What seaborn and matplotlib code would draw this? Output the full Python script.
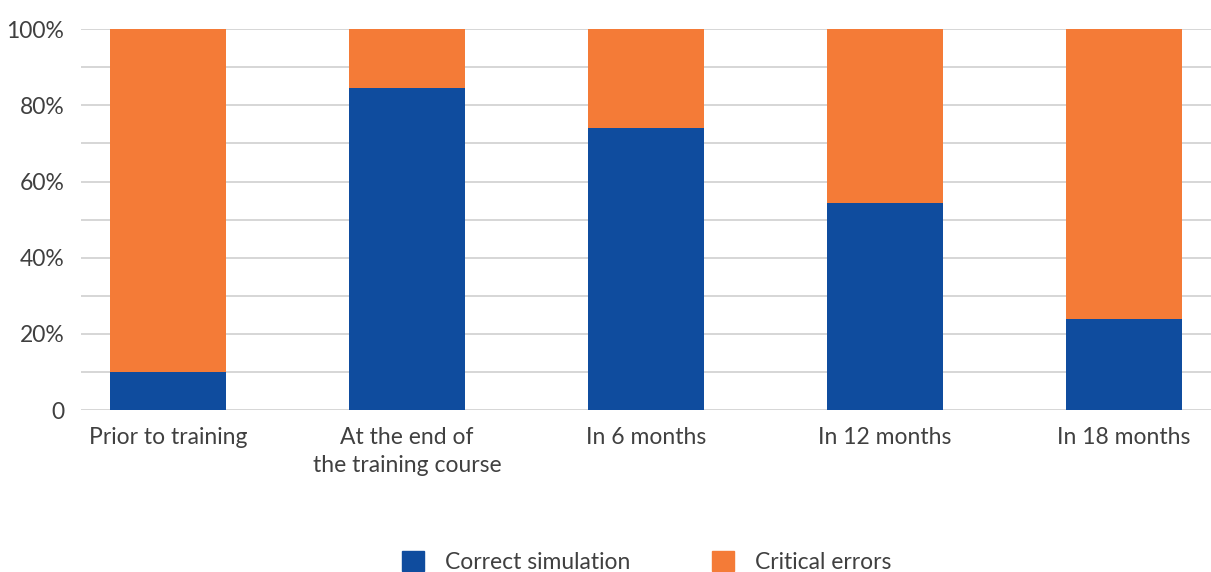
import numpy as np
import pandas as pd
import seaborn as sns
import matplotlib.pyplot as plt
from matplotlib.patches import Patch
from matplotlib.ticker import FixedLocator

# chart values (percent of participants)
stages = ["Prior to training", "At the end of\nthe training course", "In 6 months",
          "In 12 months", "In 18 months"]
correct = [10, 84.5, 74, 54.5, 24]
errors = [90, 15.5, 26, 45.5, 76]

blue = "#0F4C9E"
orange = "#F47B37"
text_col = "#404040"

sns.set_theme(style="white")
plt.rcParams["font.family"] = ["Lato", "DejaVu Sans"]

df = pd.DataFrame({"stage": stages, "correct": correct, "errors": errors})
df["total"] = df["correct"] + df["errors"]

fig = plt.figure(figsize=(12.11, 5.72), dpi=100)
ax = fig.add_axes([0.0669, 0.283, 0.933, 0.666])

# stacked: full bar in orange, blue part drawn over it
sns.barplot(data=df, x="stage", y="total", color=orange, width=0.485,
            saturation=1, linewidth=0, ax=ax, zorder=3)
sns.barplot(data=df, x="stage", y="correct", color=blue, width=0.485,
            saturation=1, linewidth=0, ax=ax, zorder=4)

ax.set_ylim(0, 100)
ax.set_xlim(-0.364, 4.364)
ax.yaxis.set_major_locator(FixedLocator([0, 20, 40, 60, 80, 100]))
ax.yaxis.set_minor_locator(FixedLocator([10, 30, 50, 70, 90]))
ax.set_yticklabels(["0", "20%", "40%", "60%", "80%", "100%"])
ax.grid(axis="y", which="both", color="#d0d0d0", linewidth=1.2, zorder=0)
ax.set_axisbelow(True)
for s in ax.spines.values():
    s.set_visible(False)
ax.tick_params(axis="both", which="both", length=0, labelsize=16.5, colors=text_col)
ax.tick_params(axis="x", pad=12)
ax.tick_params(axis="y", pad=12)
for t in ax.get_xticklabels():
    t.set_linespacing(1.4)
ax.set_xlabel("")
ax.set_ylabel("")

handles = [Patch(color=blue, label="Correct simulation"),
           Patch(color=orange, label="Critical errors")]
leg = fig.legend(handles=handles, loc="lower center", bbox_to_anchor=(0.534, -0.038),
                 ncol=2, frameon=False, fontsize=16.5, handlelength=0.95, handleheight=0.95,
                 columnspacing=3.6, handletextpad=0.9)
for t in leg.get_texts():
    t.set_color(text_col)

fig.savefig("out.png", dpi=100)
